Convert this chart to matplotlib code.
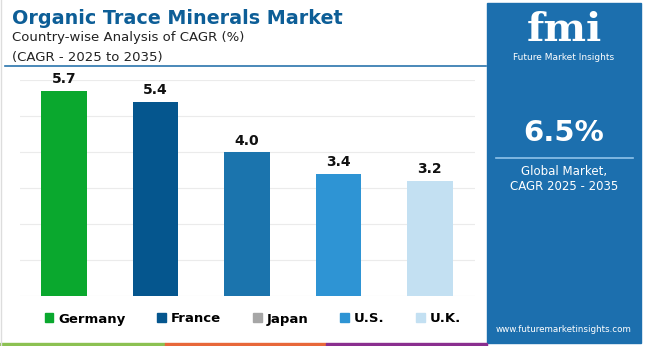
import matplotlib.pyplot as plt
from matplotlib.patches import Rectangle, Patch

countries = ['Germany', 'France', 'Japan', 'U.S.', 'U.K.']
cagr = [5.7, 5.4, 4.0, 3.4, 3.2]
bar_colors = ['#0aa82e', '#05568e', '#1b74ad', '#2e94d4', '#c3e0f2']
legend_colors = ['#0aa82e', '#05568e', '#a6a6a6', '#2e94d4', '#c3e0f2']

W, H = 650, 346
fig = plt.figure(figsize=(W / 100, H / 100), dpi=100)

def px(x, y):
    return x / W, 1 - y / H

# chart area
ax = fig.add_axes([19.5 / W, 50 / H, 455 / W, 216 / H])
ax.bar(range(len(countries)), cagr, width=0.5, color=bar_colors, zorder=2)
ax.set_xlim(-0.49, 4.49)
ax.set_ylim(0, 6)
ax.set_yticks(range(7))
ax.yaxis.grid(True, color='#ebebeb', linewidth=0.8)
ax.tick_params(left=False, bottom=False, labelleft=False, labelbottom=False)
for s in ax.spines.values():
    s.set_visible(False)
for i, v in enumerate(cagr):
    ax.text(i, v + 0.12, f'{v:.1f}', ha='center', va='bottom', fontsize=10,
            fontweight='bold', color='#111111')

# title
fig.text(*px(12, 18), 'Organic Trace Minerals Market', fontsize=13.8, fontweight='bold',
         color='#0d5e97', va='center', ha='left')
fig.text(*px(12, 37), 'Country-wise Analysis of CAGR (%)', fontsize=9.5, color='#222222',
         va='center', ha='left')
fig.text(*px(12, 58), '(CAGR - 2025 to 2035)', fontsize=9.5, color='#222222',
         va='center', ha='left')
fig.add_artist(plt.Line2D([5 / W, 486 / W], [1 - 66 / H, 1 - 66 / H], color='#2a74ad', lw=1.2))

# legend
handles = [Patch(color=c, label=n) for c, n in zip(legend_colors, countries)]
fig.legend(handles=handles, loc='center', bbox_to_anchor=(253 / W, 1 - 319 / H), ncol=5,
           frameon=False, handlelength=0.65, handleheight=0.65, handletextpad=0.4,
           columnspacing=2.4, prop={'weight': 'bold', 'size': 9.5})

# right panel
fig.add_artist(Rectangle(px(487, 343), 154 / W, 340 / H, color='#1c6fae', zorder=0))
fig.text(*px(564, 30), 'fmi', fontsize=29, fontweight='bold', family='DejaVu Serif',
         color='white', ha='center', va='center')
fig.text(*px(564, 58), 'Future Market Insights', fontsize=6.5, color='white', ha='center', va='center')
fig.text(*px(564, 133), '6.5%', fontsize=21, fontweight='bold', color='white', ha='center', va='center')
fig.add_artist(plt.Line2D([496 / W, 633 / W], [1 - 158 / H, 1 - 158 / H], color='#8fc3ea', lw=1.2))
fig.text(*px(564, 172), 'Global Market,', fontsize=8.5, color='white', ha='center', va='center')
fig.text(*px(564, 187), 'CAGR 2025 - 2035', fontsize=8.5, color='white', ha='center', va='center')
fig.text(*px(564, 330), 'www.futuremarketinsights.com', fontsize=6.3, color='white', ha='center', va='center')

# bottom strip
for x0, x1, c in [(0, 165, '#8cc152'), (165, 326, '#e8683a'), (326, 487, '#8a2f8f')]:
    fig.add_artist(Rectangle(px(x0, 346), (x1 - x0) / W, 3 / H, color=c))
fig.add_artist(plt.Line2D([1 / W, 1 / W], [0, 1], color='#dddddd', lw=1))

fig.savefig('out.png', dpi=100)
